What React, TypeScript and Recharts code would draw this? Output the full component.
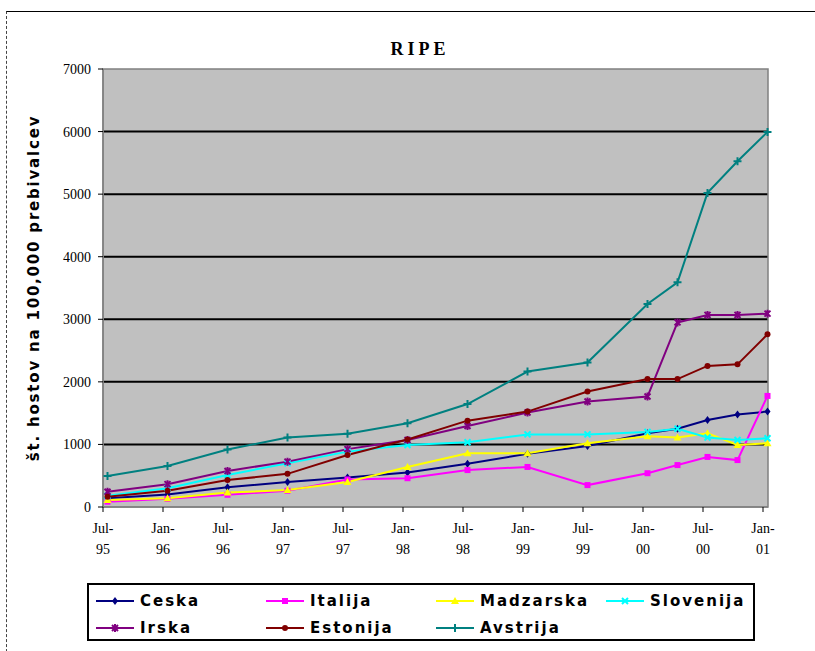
import React from "react";
import {
  LineChart,
  Line,
  XAxis,
  YAxis,
  CartesianGrid,
  ReferenceArea,
} from "recharts";

/* ── data ────────────────────────────────────────────────────────────────── */

// months since Jul-95 for each measurement
const MONTHS = [0, 6, 12, 18, 24, 30, 36, 42, 48, 54, 57, 60, 63, 66];
const TICK_MONTHS = [0, 6, 12, 18, 24, 30, 36, 42, 48, 54, 60, 66];
const TICK_LABELS = [
  "Jul-95", "Jan-96", "Jul-96", "Jan-97", "Jul-97", "Jan-98",
  "Jul-98", "Jan-99", "Jul-99", "Jan-00", "Jul-00", "Jan-01",
];
const Y_TICKS = [0, 1000, 2000, 3000, 4000, 5000, 6000, 7000];

const ceska = [140, 200, 315, 400, 470, 550, 690, 850, 975, 1180, 1250, 1390, 1480, 1525];
const italija = [85, 130, 195, 260, 440, 460, 590, 640, 350, 540, 670, 800, 750, 1775];
const madzarska = [110, 140, 230, 270, 400, 640, 860, 860, 1020, 1130, 1110, 1180, 990, 1020];
const slovenija = [180, 300, 510, 700, 885, 990, 1035, 1160, 1160, 1200, 1250, 1110, 1070, 1100];
const irska = [245, 365, 575, 725, 925, 1070, 1295, 1510, 1685, 1765, 2950, 3070, 3070, 3090];
const estonija = [165, 260, 430, 530, 830, 1080, 1380, 1525, 1845, 2045, 2045, 2255, 2280, 2760];
const avstrija = [495, 655, 920, 1110, 1170, 1340, 1645, 2165, 2310, 3245, 3590, 5020, 5525, 5995];

type Shape = "diamond" | "square" | "triangle" | "x" | "star" | "circle" | "plus";

const SERIES: { key: string; name: string; color: string; shape: Shape; values: number[] }[] = [
  { key: "ceska", name: "Ceska", color: "#000080", shape: "diamond", values: ceska },
  { key: "italija", name: "Italija", color: "#FF00FF", shape: "square", values: italija },
  { key: "madzarska", name: "Madzarska", color: "#FFFF00", shape: "triangle", values: madzarska },
  { key: "slovenija", name: "Slovenija", color: "#00FFFF", shape: "x", values: slovenija },
  { key: "irska", name: "Irska", color: "#800080", shape: "star", values: irska },
  { key: "estonija", name: "Estonija", color: "#800000", shape: "circle", values: estonija },
  { key: "avstrija", name: "Avstrija", color: "#008080", shape: "plus", values: avstrija },
];

// points sit in the middle of the month
const data = MONTHS.map((m, i) => {
  const row: Record<string, number> = { m: m + 0.45 };
  SERIES.forEach((s) => (row[s.key] = s.values[i]));
  return row;
});

/* ── markers ─────────────────────────────────────────────────────────────── */

function Marker({ cx, cy, shape, color }: { cx: number; cy: number; shape: Shape; color: string }) {
  const r = 3;
  switch (shape) {
    case "diamond":
      return <path d={`M${cx},${cy - r - 1}L${cx + r},${cy}L${cx},${cy + r + 1}L${cx - r},${cy}Z`} fill={color} />;
    case "square":
      return <rect x={cx - r} y={cy - r} width={r * 2} height={r * 2} fill={color} />;
    case "triangle":
      return <path d={`M${cx},${cy - r - 1}L${cx + r + 1},${cy + r}L${cx - r - 1},${cy + r}Z`} fill={color} />;
    case "x":
      return (
        <path d={`M${cx - r},${cy - r}L${cx + r},${cy + r}M${cx + r},${cy - r}L${cx - r},${cy + r}`} stroke={color} strokeWidth={2} />
      );
    case "star":
      return (
        <path
          d={`M${cx - r},${cy - r}L${cx + r},${cy + r}M${cx + r},${cy - r}L${cx - r},${cy + r}M${cx},${cy - r - 1}L${cx},${cy + r + 1}`}
          stroke={color}
          strokeWidth={2}
        />
      );
    case "circle":
      return <circle cx={cx} cy={cy} r={r} fill={color} />;
    default:
      return <path d={`M${cx - r - 1},${cy}L${cx + r + 1},${cy}M${cx},${cy - r - 1}L${cx},${cy + r + 1}`} stroke={color} strokeWidth={2} />;
  }
}

const makeDot = (shape: Shape, color: string) => (props: any) => {
  const { cx, cy, index } = props;
  if (cx == null || cy == null) return <g key={index} />;
  return <Marker key={index} cx={cx} cy={cy} shape={shape} color={color} />;
};

function XTick(props: any) {
  const { x, y, payload } = props;
  const idx = TICK_MONTHS.indexOf(payload.value);
  const [mon, yr] = (TICK_LABELS[idx] ?? "").split("-");
  return (
    <g transform={`translate(${x},${y})`}>
      <text x={0} y={19} textAnchor="middle" fontSize={14} fontFamily="Liberation Serif" fill="#000">
        {mon}-
      </text>
      <text x={0} y={40} textAnchor="middle" fontSize={14} fontFamily="Liberation Serif" fill="#000">
        {yr}
      </text>
    </g>
  );
}

/* ── chart ───────────────────────────────────────────────────────────────── */

export default function App() {
  return (
    <div style={{ position: "absolute", left: 0, top: 0, width: 815, height: 651, background: "#fff", overflow: "hidden" }}>
      {/* outer frame */}
      <div style={{ position: "absolute", left: 6, top: 11, width: 820, height: 660, borderTop: "1px solid #000", borderLeft: "1px dashed #444" }} />

      <div
        style={{
          position: "absolute", left: 0, width: 840, top: 39, textAlign: "center",
          fontFamily: "Liberation Serif", fontWeight: "bold", fontSize: 18, letterSpacing: 4,
        }}
      >
        RIPE
      </div>

      <div
        style={{
          position: "absolute", left: 34, top: 288, transform: "translate(-50%, -50%) rotate(-90deg)",
          whiteSpace: "nowrap", fontFamily: "DejaVu Sans", fontWeight: "bold", fontSize: 15, letterSpacing: 1.8,
        }}
      >
        št. hostov na 100,000 prebivalcev
      </div>

      <div style={{ position: "absolute", left: 0, top: 0 }}>
        <LineChart width={815} height={651} data={data} margin={{ top: 69, right: 47, bottom: 94, left: 0 }}>
          <CartesianGrid
            horizontal
            vertical={false}
            fill="#C0C0C0"
            stroke="#000"
            strokeWidth={2}
            horizontalValues={[1000, 2000, 3000, 4000, 5000, 6000]}
          />
          <ReferenceArea x1={0} x2={66.5} y1={0} y2={7000} fill="none" fillOpacity={0} stroke="#808080" strokeWidth={1.5} />
          <XAxis
            dataKey="m"
            type="number"
            domain={[0, 66.5]}
            ticks={TICK_MONTHS}
            interval={0}
            height={50}
            tick={<XTick />}
            tickSize={5}
            tickLine={{ stroke: "#000" }}
            axisLine={{ stroke: "#808080", strokeWidth: 1.5 }}
          />
          <YAxis
            type="number"
            domain={[0, 7000]}
            ticks={Y_TICKS}
            interval={0}
            width={103}
            tickSize={5}
            tickMargin={7}
            tickLine={{ stroke: "#000" }}
            axisLine={{ stroke: "#808080", strokeWidth: 1.5 }}
            tick={{ fill: "#000", fontSize: 14, fontFamily: "Liberation Serif" }}
          />
          {SERIES.map((s) => (
            <Line
              key={s.key}
              dataKey={s.key}
              name={s.name}
              stroke={s.color}
              strokeWidth={2}
              dot={makeDot(s.shape, s.color)}
              activeDot={false}
              isAnimationActive={false}
            />
          ))}
        </LineChart>
      </div>

      {/* legend */}
      <div
        style={{
          position: "absolute", left: 87, top: 583, width: 664, height: 54, border: "2px solid #000", background: "#fff",
        }}
      >
        {SERIES.map((s, i) => {
          const col = i % 4;
          const row = Math.floor(i / 4);
          return (
            <div
              key={s.key}
              style={{
                position: "absolute", left: 6 + col * 170, top: 6 + row * 27, height: 20,
                display: "flex", alignItems: "center", whiteSpace: "nowrap",
              }}
            >
              <svg width={40} height={12} style={{ marginRight: 5 }}>
                <line x1={1} y1={6} x2={39} y2={6} stroke={s.color} strokeWidth={2} />
                <Marker cx={20} cy={6} shape={s.shape} color={s.color} />
              </svg>
              <span style={{ fontFamily: "DejaVu Sans", fontWeight: "bold", fontSize: 15, letterSpacing: 2 }}>{s.name}</span>
            </div>
          );
        })}
      </div>
    </div>
  );
}
